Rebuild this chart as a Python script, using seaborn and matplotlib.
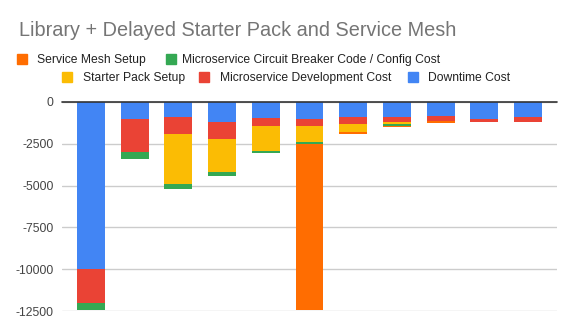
import matplotlib
matplotlib.use("Agg")
import matplotlib.pyplot as plt
import seaborn as sns
import numpy as np
import pandas as pd
from matplotlib.patches import Rectangle

title = "Library + Delayed Starter Pack and Service Mesh"
categories = [f"S{i}" for i in range(1, 12)]
series_names = ["Downtime Cost", "Microservice Development Cost", "Starter Pack Setup",
                "Microservice Circuit Breaker Code / Config Cost", "Service Mesh Setup"]
downtime = [10000, 1000, 900, 1175, 940, 1000, 900, 900, 840, 1000, 900]
dev_cost = [2000, 1970, 1000, 1040, 500, 420, 420, 300, 300, 180, 300]
starter = [0, 0, 3000, 1970, 1500, 960, 480, 120, 0, 0, 0]
breaker = [430, 440, 300, 240, 120, 120, 0, 120, 0, 0, 0]
mesh = [0, 0, 0, 0, 0, 9920, 120, 60, 120, 0, 0]
yticks = [0, -2500, -5000, -7500, -10000, -12500]

colors = {"Downtime Cost": "#4285F4", "Microservice Development Cost": "#EA4335",
          "Starter Pack Setup": "#FBBC04",
          "Microservice Circuit Breaker Code / Config Cost": "#34A853",
          "Service Mesh Setup": "#FF6D01"}

sns.set_theme(style="white")
plt.rcParams["font.family"] = ["Liberation Sans", "DejaVu Sans"]

W, H = 574, 335
fig = plt.figure(figsize=(W / 100, H / 100), dpi=100)
ax = fig.add_axes([62 / W, 1 - 311 / H, (557 - 62) / W, (311 - 102) / H])

vals = [downtime, dev_cost, starter, breaker, mesh]
cum = np.cumsum(np.array(vals, dtype=float), axis=0)
for i in range(len(series_names) - 1, -1, -1):
    df = pd.DataFrame({"cat": categories, "val": -cum[i]})
    sns.barplot(data=df, x="cat", y="val", color=colors[series_names[i]],
                width=0.64, saturation=1, ax=ax, linewidth=0, zorder=3)

ax.set_ylim(-12500, 0)
ax.set_xlim(-0.66, len(categories) - 1 + 0.66)
ax.set_yticks(yticks)
ax.set_yticklabels([str(t) for t in yticks], fontsize=8.7, color="#444444")
ax.tick_params(axis="y", length=0, pad=6)
ax.set_xticks([])
ax.set_xlabel("")
ax.set_ylabel("")
for s in ax.spines.values():
    s.set_visible(False)
ax.grid(axis="y", color="#cccccc", linewidth=1, zorder=0)
ax.axhline(0, color="#333333", linewidth=1.2, zorder=4, clip_on=False)

fig.text(19 / W, 1 - 36 / H, title, fontsize=14.3, color="#757575", va="baseline", ha="left")

legend_items = [
    ("Service Mesh Setup", 16.7, 37.3, 62.7, 64),
    ("Microservice Circuit Breaker Code / Config Cost", 165.7, 181.7, 62.7, 64),
    ("Starter Pack Setup", 62.3, 82.7, 81, 82.3),
    ("Microservice Development Cost", 199, 220, 81, 82.3),
    ("Downtime Cost", 407.7, 428.3, 81, 82.3),
]
for name, sx, tx, yb, sq_bottom in legend_items:
    fig.patches.append(Rectangle((sx / W, 1 - sq_bottom / H), 10 / W, 10 / H,
                                 transform=fig.transFigure, color=colors[name]))
    fig.text(tx / W, 1 - yb / H, name, fontsize=8.7, color="#222222",
             va="baseline", ha="left")

fig.savefig("out.png", dpi=100)
